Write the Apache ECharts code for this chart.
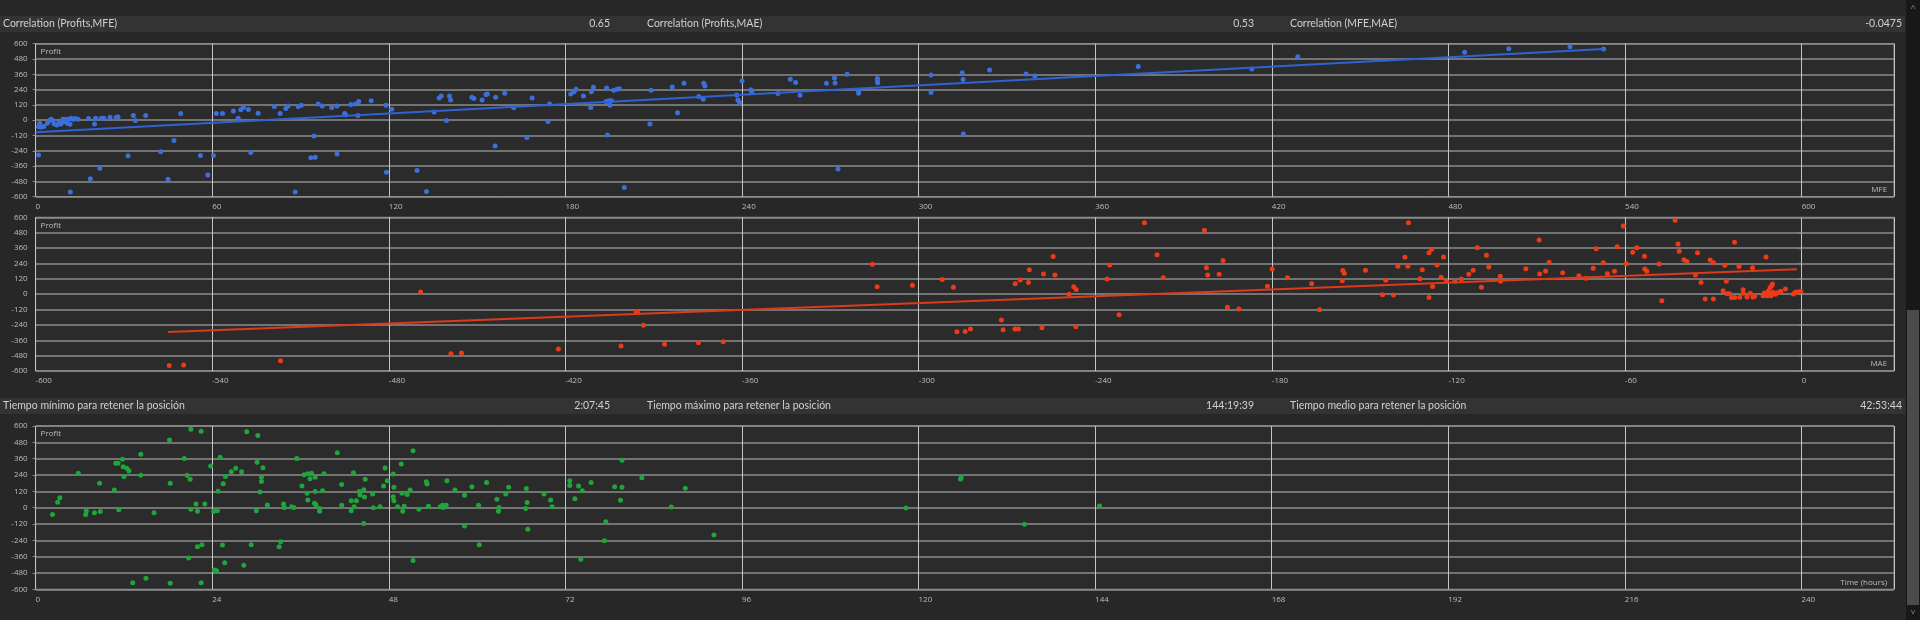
<!DOCTYPE html>
<html>
<head>
<meta charset="utf-8">
<script src="https://cdn.jsdelivr.net/npm/echarts@6/dist/echarts.min.js"></script>
<style>
html,body{margin:0;padding:0;background:#272727;overflow:hidden;}
#c{width:1920px;height:620px;}
</style>
</head>
<body>
<div id="c"></div>
<script>
// ---------- DATA ----------
const headerLabels1 = ['Correlation (Profits,MFE)', 'Correlation (Profits,MAE)', 'Correlation (MFE,MAE)'];
const headerValues1 = ['0.65', '0.53', '-0.0475'];
const headerLabels2 = ['Tiempo mínimo para retener la posición', 'Tiempo máximo para retener la posición', 'Tiempo medio para retener la posición'];
const headerValues2 = ['2:07:45', '144:19:39', '42:53:44'];

const mfePoints = [
[1,-272],[1,-50],[1.4,-24],[1.7,-56],[2.8,-50],[4,-24],[4.7,-3],[5.3,8],[5.8,-3],[6.3,-29],[7.2,-37],[8,-18],[8.6,-29],[9.3,8],[9.7,-10],[10.3,8],[10.7,-24],[11.1,8],[11.7,-31],[12.1,16],[12.8,8],[13.6,13],[14.4,8],
[11.8,-564],[18,13],[18.6,-459],[20,-29],[20.4,16],[21.8,-377],[22.3,16],[23.2,16],[25.3,24],[27.4,24],[28,26],[31.4,-278],[33.2,37],[33.9,-3],[37.4,37],[42.5,-247],[45,-464],[47,-159],[49.3,52],
[56,-276],[58.5,-430],[60.4,-276],[61.4,52],[63.5,52],[67.2,73],[68.8,16],[69.7,81],[70.6,99],[72.3,84],[73.1,-253],[75.6,55],[81.1,107],[83.1,52],[85,91],[85.8,112],[88.2,-563],[89.2,107],[90.3,117],
[93.5,-294],[94.6,-124],[95,-291],[96,128],[97.4,112],[100.6,99],[102.4,112],[102.4,-265],[105,52],[105.3,42],[107.1,123],[108.7,128],[109.5,37],[109.8,146],[114,152],[119,118],[119.2,-409],[121,86],
[129.6,-395],[132.8,-560],[135.4,65],[137.1,175],[137.8,190],[139.6,-3],[140.6,190],[141,159],[148.2,180],[148.9,170],[151.7,159],[153,201],[153.5,206],[156.1,-203],[156.3,180],[159.4,212],[162.4,97],
[166.9,-136],[168.7,175],[174.1,-10],[174.6,128],[181.8,206],[182.9,224],[183.6,242],[186.1,190],[188.6,99],[188.8,224],[189.5,259],[194,253],[194.3,-116],[193.8,146],[194.7,152],[195.1,118],[195.6,152],
[196.4,235],[197.5,243],[198.3,246],[200,-527],
[208.7,-30],[209.1,235],[216.3,261],[218.1,59],[220.3,290],[225.3,185],[226.8,164],[227,290],[227.4,269],[238.2,198],[238.6,159],[239.2,138],[240,308],[243,238],[243.3,219],[252.2,209],[256.4,321],
[258.2,295],[259.7,196],[268.7,290],[271.4,331],[271.6,292],[272.6,-383],[275.7,360],[279.6,231],[279.6,211],[286,328],[286,310],[286.1,294],[304.2,354],[304.2,218],[314.8,373],[315.1,320],[315.2,-108],
[324.1,393],[336.5,362],[339.5,346],[374.6,422],[413.2,401],[428.8,498],[485.5,532],[500.5,561],[521.3,576],[532.7,558]
];
const mfeTrend = [[0,-95],[532.7,558]];

const maePoints = [
[-554.6,-558],[-549.7,-553],[-516.8,-519],[-469.2,17],[-458.9,-465],[-455.3,-459],[-422.4,-428],[-401.1,-405],[-396,-137],[-395.5,-143],
[-393.5,-243],[-386.3,-392],[-374.8,-379],[-366.4,-371],[-315.7,233],[-314.1,57],[-302.1,70],[-292,114],[-288.2,54],[-287,-293],[-284.2,-291],[-282.4,-273],[-271.9,-202],[-271.3,-277],[-267.3,-272],
[-266.1,-272],[-267.2,82],[-265.5,111],[-262.7,90],[-262.4,191],[-257.6,158],[-258.1,-262],[-254.3,293],[-253.7,150],[-248.9,-1],[-247.3,57],[-246.5,36],[-246.6,-254],[-236,118],[-235.1,228],
[-231.9,-160],[-223.3,558],[-219,308],[-216.9,129],[-202.9,498],[-202.2,207],[-201.8,150],[-197.9,155],[-196.6,262],[-195.1,-103],[-191.2,-116],[-181.5,61],[-179.9,197],
[-174.7,129],[-166.5,82],[-163.8,-121],[-156.1,105],[-155.9,184],[-155.4,163],[-148.2,186],[-142.4,-4],[-141.3,108],[-138.7,-7],[-137.2,217],[-134.8,288],[-133.8,217],[-133.6,558],[-129.7,121],
[-128.9,191],[-126.6,324],[-126.6,-27],[-125.7,350],[-125.4,59],[-123.9,228],[-122.5,131],[-121.7,290],[-120.7,100],[-117.8,100],[-115.6,118],[-113.1,155],[-111.6,186],[-110.2,363],[-108.8,53],
[-107.1,303],[-106.3,212],[-102.4,139],[-102.3,100],[-93.7,199],[-89.2,423],[-89,158],[-87,181],[-85.8,249],[-81.2,168],[-75.7,144],[-73.3,124],[-70.8,202],[-69.8,355],[-67.4,246],[-66,160],
[-63.6,178],[-62.7,371],[-60.6,532],[-59.6,238],[-57.4,327],[-56,363],[-53.4,295],[-53.3,196],[-52.6,178],[-48.4,236],[-47.5,-51],[-43,577],[-42,392],[-41.6,334],[-40,269],[-39,254],[-36.1,150],
[-35.4,324],[-34.2,90],[-32.8,-38],[-31.1,267],[-30,246],[-30,-38],[-26.7,27],[-26.1,225],[-25.6,100],[-25.3,4],[-24.5,4],[-23.8,-27],[-22.8,405],[-22.7,-27],[-21.3,215],[-21,-25],[-19.9,35],
[-19.8,7],[-18.6,-22],[-17.5,7],[-16.6,-22],[-16.7,207],[-16,-17],[-13.1,-12],[-12.7,9],[-12.1,290],[-11.7,-12],[-11.3,25],[-11,9],[-10.7,51],[-10.4,-12],[-10.2,66],[-9.9,79],[-9.6,14],[-8.9,-1],
[-8,12],[-7.1,22],[-5.5,40],[-2.8,1],[-2.3,12],[-1.6,17],[-1,17],[-0.3,20]
];
const maeTrend = [[-555,-295],[-1.6,194]];

const timePoints = [
[2.3,-51],[3,39],[3.3,73],[5.8,252],[6.8,-51],[6.9,-24],[8,-37],[8.7,179],[8.8,-29],[10.7,130],[10.9,326],[11.2,326],[11.3,-15],[11.8,355],[12,228],[11.9,301],[12.4,289],[12.7,269],[13.2,-551],
[14.3,392],[14.3,238],[15,-519],[16.1,-37],[18.2,497],[18.3,179],[18.3,-556],[20.2,362],[20.6,238],[20.8,-370],[21,208],[21.1,-12],[21.1,576],[21.8,27],[22,-287],[22,-27],[22.5,561],[22.5,-551],
[22.6,-272],[23,27],[23.8,306],[24.2,-27],[24.3,-458],[24.6,-463],[24.7,-22],[24.8,120],[25.1,370],[25.4,-274],[25.5,176],[25.7,-404],[25.8,228],[26.6,264],[27.2,289],[28,264],[28.3,-424],[28.7,558],
[29.3,-272],[30,-22],[30.1,333],[30.2,531],[30.5,115],[30.7,223],[30.7,193],[30.9,294],[31.5,20],[33.1,-287],[33.3,-250],[33.7,27],[33.8,2],[34.8,7],[35.1,2],[35.5,362],[36.2,159],[36.5,242],[37,250],
[36.9,105],[37,56],[37.3,213],[37.5,252],[37.9,32],[38,118],[38,223],[38.1,22],[38.6,-7],[38.6,-27],[39,125],[39.2,250],[41,404],[41.6,171],[41.6,17],[42.9,51],[42.9,-22],[43.2,257],[43.3,7],[43.6,51],
[44,118],[44.1,93],[44.6,132],[44.7,78],[44.8,208],[44.6,-117],[45.8,100],[45.9,0],[46.8,7],[47.3,159],[47.5,291],[47.8,198],[48.6,247],[48.6,81],[48.7,51],[48.7,149],[49.2,7],[49.7,321],[49.8,105],
[49.9,-27],[50.1,10],[50.5,96],[50.9,130],[51.3,419],[51.3,-389],[52.1,-12],[53.1,191],[53.2,174],[53.4,10],[55,7],[55.3,17],[55.4,2],[55.8,17],[55.9,198],[57,130],[58.3,91],[58.3,-135],[59.3,154],
[60.2,17],[60.3,-272],[61.3,184],[62.7,61],[62.9,-27],[63,2],[63.9,100],[64.3,149],[66.7,140],[66.8,37],[66.6,-7],[66.9,-159],[69.1,100],[70,56],[70.2,7],[72.6,198],[72.6,162],[73.3,66],[73.8,159],
[74.1,-380],[74.3,125],[75.5,184],[77.3,-243],[77.5,-103],[78.7,154],[79.5,54],[79.7,348],[79.7,149],
[82.4,220],[86.4,5],[88.3,142],[92.2,-201],[118.3,-2],[125.7,211],[125.8,220],[134.4,-122],[144.6,12]
];

const profitTicks = {min: -600, max: 600, interval: 120};
const mfeAxis = {min: 0, max: 631.4, interval: 60};
const maeAxis = {min: -600, max: 31.4, interval: 60};
const timeAxis = {min: 0, max: 252.6, interval: 24};

// ---------- LAYOUT ----------
const GL = 35.6, GW = 1858.5;
const grids = [
  {top: 43.7, height: 153},
  {top: 217.3, height: 153.7},
  {top: 426, height: 163.3}
];
const FONT = 'Lato, "Open Sans", sans-serif';
const AXFONT = '"Open Sans", "Noto Sans", sans-serif';
const bgCol = '#272727';
const stripCol = '#333333';
const textCol = '#d0d0d0';
const labCol = '#bdbdbd';

function yAx(i) {
  return {
    gridIndex: i, type: 'value', min: profitTicks.min, max: profitTicks.max, interval: profitTicks.interval,
    axisLine: {show: false},
    axisTick: {show: true, length: 3, lineStyle: {color: '#8a8a8a'}},
    axisLabel: {color: labCol, fontSize: 8, fontFamily: AXFONT, margin: 8},
    splitLine: {show: true, lineStyle: {color: '#8c8c8c', width: 1.5}}
  };
}
function xAx(i, a) {
  return {
    gridIndex: i, type: 'value', min: a.min, max: a.max, interval: a.interval,
    axisLine: {show: false}, axisTick: {show: false},
    axisLabel: {color: labCol, fontSize: 8, fontFamily: AXFONT, margin: 6, align: 'left', showMaxLabel: false, showMinLabel: true},
    splitLine: {show: true, lineStyle: {color: '#c4c4c4', width: 1}}
  };
}

const graphic = [];
function strip(y, h, labels, values) {
  graphic.push({type: 'rect', shape: {x: 0, y: y, width: 1905, height: h}, style: {fill: stripCol}, silent: true, z: 0});
  const lx = [3, 647, 1290];
  const vx = [610, 1254, 1902];
  for (let k = 0; k < 3; k++) {
    graphic.push({type: 'text', x: lx[k], y: y + h / 2, style: {text: labels[k], fill: textCol, font: '10.5px ' + FONT, textVerticalAlign: 'middle', textAlign: 'left'}, silent: true, z: 2});
    graphic.push({type: 'text', x: vx[k], y: y + h / 2, style: {text: values[k], fill: textCol, font: '10.5px ' + FONT, textVerticalAlign: 'middle', textAlign: 'right'}, silent: true, z: 2});
  }
}
strip(16, 16, headerLabels1, headerValues1);
strip(398, 16, headerLabels2, headerValues2);

const corner = ['MFE', 'MAE', 'Time (hours)'];
grids.forEach((g, i) => {
  graphic.push({type: 'text', x: GL + 5, y: g.top + 8, style: {text: 'Profit', fill: labCol, font: '8px ' + AXFONT, textVerticalAlign: 'middle'}, silent: true, z: 5});
  graphic.push({type: 'text', x: GL + GW - 7, y: g.top + g.height - 7, style: {text: corner[i], fill: labCol, font: '8px ' + AXFONT, textVerticalAlign: 'middle', textAlign: 'right'}, silent: true, z: 5});
});

// scrollbar
graphic.push({type: 'rect', shape: {x: 1906, y: 0, width: 14, height: 620}, style: {fill: '#181818'}, silent: true});
graphic.push({type: 'rect', shape: {x: 1907, y: 310, width: 12, height: 295}, style: {fill: '#4b4b4b'}, silent: true});
graphic.push({type: 'text', x: 1913, y: 8, style: {text: '^', fill: '#8a8a8a', font: '9px ' + AXFONT, textAlign: 'center', textVerticalAlign: 'middle'}, silent: true});
graphic.push({type: 'text', x: 1913, y: 612, style: {text: 'v', fill: '#8a8a8a', font: '8px ' + AXFONT, textAlign: 'center', textVerticalAlign: 'middle'}, silent: true});

const option = {
  backgroundColor: bgCol,
  animation: false,
  grid: grids.map(g => ({left: GL, width: GW, top: g.top, height: g.height, show: true, backgroundColor: '#2b2b2b', borderColor: '#a0a0a0', borderWidth: 1, containLabel: false})),
  xAxis: [xAx(0, mfeAxis), xAx(1, maeAxis), xAx(2, timeAxis)],
  yAxis: [yAx(0), yAx(1), yAx(2)],
  graphic: graphic,
  series: [
    {type: 'scatter', xAxisIndex: 0, yAxisIndex: 0, data: mfePoints, symbolSize: 5, itemStyle: {color: '#3b6fdc', opacity: 1}, z: 3},
    {type: 'line', xAxisIndex: 0, yAxisIndex: 0, data: mfeTrend, showSymbol: false, lineStyle: {color: '#2f63d2', width: 2}, z: 4, silent: true},
    {type: 'scatter', xAxisIndex: 1, yAxisIndex: 1, data: maePoints, symbolSize: 5, itemStyle: {color: '#ee3a16', opacity: 1}, z: 3},
    {type: 'line', xAxisIndex: 1, yAxisIndex: 1, data: maeTrend, showSymbol: false, lineStyle: {color: '#dc3a1a', width: 2}, z: 4, silent: true},
    {type: 'scatter', xAxisIndex: 2, yAxisIndex: 2, data: timePoints, symbolSize: 5, itemStyle: {color: '#1ea63b', opacity: 1}, z: 3}
  ]
};
const chart = echarts.init(document.getElementById('c'), null, {renderer: 'canvas'});
chart.setOption(option);
</script>
</body>
</html>
